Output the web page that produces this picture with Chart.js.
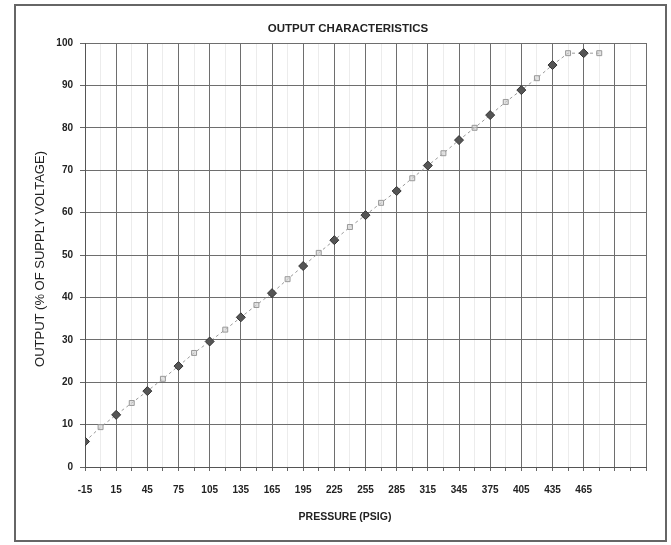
<!DOCTYPE html>
<html>
<head>
<meta charset="utf-8">
<script src="https://cdn.jsdelivr.net/npm/chart.js@4.4.1/dist/chart.umd.min.js"></script>
<style>
  html, body { margin: 0; padding: 0; background: #ffffff; }
  #wrap { position: relative; width: 671px; height: 545px; }
  canvas { display: block; }
</style>
</head>
<body>
<div id="wrap"><canvas id="c" width="671" height="545"></canvas></div>
<script>
// Pressure (psig) at each reading
const pressure = [-15, 0, 15, 30, 45, 60, 75, 90, 105, 120, 135, 150, 165, 180, 195, 210,
  225, 240, 255, 270, 285, 300, 315, 330, 345, 360, 375, 390, 405, 420, 435, 450, 465, 480];
// Output as % of supply voltage
const output = [6.0, 9.4, 12.3, 15.1, 17.9, 20.8, 23.8, 26.9, 29.6, 32.4, 35.3, 38.2, 41.0, 44.3,
  47.4, 50.5, 53.5, 56.6, 59.4, 62.3, 65.1, 68.1, 71.1, 74.0, 77.1, 80.0, 83.0, 86.1, 88.9,
  91.7, 94.8, 97.6, 97.6, 97.6];
// Labelled pressure ticks
const xTickLabels = ['-15', '15', '45', '75', '105', '135', '165', '195', '225', '255', '285',
  '315', '345', '375', '405', '435', '465'];
const yTickLabels = ['0', '10', '20', '30', '40', '50', '60', '70', '80', '90', '100'];

const chartTitle = 'OUTPUT CHARACTERISTICS';
const xTitle = 'PRESSURE (PSIG)';
const yTitle = 'OUTPUT (% OF SUPPLY VOLTAGE)';

const FONT = '"Liberation Sans", Arial, sans-serif';

const points = pressure.map((p, i) => ({ x: p, y: output[i] }));
// readings on the 30 psig grid lines are drawn dark, the ones between are light
const isMain = p => ((p + 15) % 30) === 0;

const frameAndTitles = {
  id: 'frameAndTitles',
  afterDraw(chart) {
    const ctx = chart.ctx;
    ctx.save();
    ctx.strokeStyle = '#666';
    ctx.lineWidth = 2;
    ctx.strokeRect(15, 5, 651, 536);
    ctx.fillStyle = '#222';
    ctx.textAlign = 'center';
    ctx.textBaseline = 'middle';
    ctx.font = 'bold 11.5px ' + FONT;
    ctx.fillText(chartTitle, 348, 29);
    ctx.font = 'bold 10.5px ' + FONT;
    ctx.fillText(xTitle, 345, 517);
    ctx.translate(40, 259);
    ctx.rotate(-Math.PI / 2);
    ctx.font = '13px ' + FONT;
    ctx.fillText(yTitle, 0, 0);
    ctx.restore();
  }
};

new Chart(document.getElementById('c'), {
  type: 'scatter',
  data: {
    datasets: [{
      data: points,
      showLine: true,
      borderColor: '#9a9a9a',
      borderWidth: 1,
      borderDash: [3, 3],
      pointStyle: ctx => isMain(pressure[ctx.dataIndex]) ? 'rectRot' : 'rect',
      pointRadius: ctx => isMain(pressure[ctx.dataIndex]) ? 4.5 : 3.5,
      pointBackgroundColor: ctx => isMain(pressure[ctx.dataIndex]) ? '#555' : 'rgba(210,210,210,0.6)',
      pointBorderColor: ctx => isMain(pressure[ctx.dataIndex]) ? '#333' : '#999',
      pointBorderWidth: 1
    }]
  },
  options: {
    responsive: false,
    animation: false,
    layout: { padding: { left: 0, top: 43, right: 25, bottom: 0 } },
    plugins: { legend: { display: false }, tooltip: { enabled: false }, title: { display: false } },
    scales: {
      x: {
        type: 'linear',
        min: -15, max: 525,
        afterBuildTicks: s => {
          const t = [];
          for (let v = -15; v <= 525; v += 15) t.push({ value: v });
          s.ticks = t;
        },
        afterFit: s => { s.height = 78; },
        border: { color: '#555', width: 1 },
        grid: {
          color: c => isMain(c.tick.value) ? '#6e6e6e' : '#ececec',
          tickColor: '#666',
          tickLength: 4,
          lineWidth: 1
        },
        ticks: {
          autoSkip: false,
          maxRotation: 0,
          padding: 13,
          color: '#222',
          font: { family: FONT, size: 10, weight: 'bold' },
          callback: v => xTickLabels.includes(String(v)) ? String(v) : ''
        }
      },
      y: {
        min: 0, max: 100,
        afterBuildTicks: s => { s.ticks = yTickLabels.map(l => ({ value: Number(l) })); },
        afterFit: s => { s.width = 85; },
        border: { color: '#555', width: 1 },
        grid: { color: '#6e6e6e', tickColor: '#666', tickLength: 5, lineWidth: 1 },
        ticks: {
          padding: 7,
          color: '#222',
          font: { family: FONT, size: 10, weight: 'bold' },
          callback: v => yTickLabels.includes(String(v)) ? String(v) : ''
        }
      }
    }
  },
  plugins: [frameAndTitles]
});
</script>
</body>
</html>
